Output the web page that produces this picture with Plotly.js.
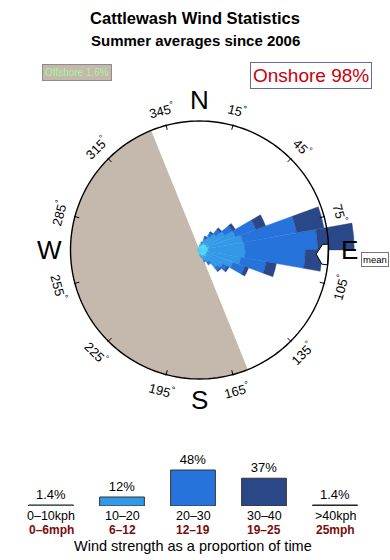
<!DOCTYPE html>
<html>
<head>
<meta charset="utf-8">
<script src="https://cdn.plot.ly/plotly-3.0.1.min.js"></script>
<style>html,body{margin:0;padding:0;background:#fff;}#chart{width:390px;height:560px;}</style>
</head>
<body>
<div id="chart"></div>
<script>
// ---------- data ----------
const speedKph = ['0–10kph', '10–20', '20–30', '30–40', '>40kph'];
const speedMph = ['0–6mph', '6–12', '12–19', '19–25', '25mph'];
const speedShare = [1.4, 12, 48, 37, 1.4];
const speedShareText = ['1.4%', '12%', '48%', '37%', '1.4%'];

const onshorePct = 98;
const offshorePct = 1.6;
const offshoreCentre = 248;   // direction at the middle of the offshore half
const meanDir = 92;

const directions = [5, 15, 25, 35, 45, 55, 65, 75, 85, 95, 105, 115, 125, 135, 145, 155, 165, 175,
  185, 195, 205, 215, 225, 235, 245, 255, 265, 275, 285, 295, 305, 315, 325, 335, 345, 355];
const rose0to10 = [0.6, 0.8, 1.0, 1.3, 1.1, 1.4, 1.2, 1.5, 1.3, 1.4, 1.2, 1.3, 1.1, 1.4, 1.0, 1.2, 0.9, 0.7,
  0.5, 0.4, 0.3, 0.3, 0.3, 0.3, 0.3, 0.3, 0.3, 0.3, 0.3, 0.3, 0.3, 0.3, 0.4, 0.4, 0.5, 0.5];
const rose10to20 = [0.2, 0.4, 0.8, 1.2, 2.2, 3.1, 4.7, 5.3, 5.7, 5.7, 5.3, 4.2, 3.1, 2.2, 1.2, 0.6, 0.3, 0.1,
  0, 0, 0, 0, 0, 0, 0, 0, 0, 0, 0, 0, 0, 0, 0, 0, 0, 0];
const rose20to30 = [0, 0.1, 0.3, 0.6, 0.9, 1.4, 3.4, 8.5, 11.3, 9.3, 4.0, 2.0, 0.8, 0.6, 0.5, 0.2, 0, 0,
  0, 0, 0, 0, 0, 0, 0, 0, 0, 0, 0, 0, 0, 0, 0, 0, 0, 0];
const rose30to40 = [0, 0, 0.2, 0.2, 0.3, 0.5, 1.6, 4.3, 5.7, 2.6, 1.6, 0.6, 0.3, 0.2, 0, 0, 0, 0,
  0, 0, 0, 0, 0, 0, 0, 0, 0, 0, 0, 0, 0, 0, 0, 0, 0, 0];

const tickAngles = [15, 45, 75, 105, 135, 165, 195, 225, 255, 285, 315, 345];
const compass = ['N', 'E', 'S', 'W'];
const compassAngles = [0, 90, 180, 270];

// ---------- styling / geometry ----------
const W = 390, H = 560;
const cx = 199.5, cy = 250;          // rose centre (px)
const ringPx = 129;                   // outer ring radius (px)
const ring = 20;                      // ring value in radial units
const pxPerUnit = ringPx / ring;
const domR = 165;                     // polar domain radius (px)
const speedColors = ['#4dd5f2', '#3399e6', '#2673dc', '#2a4888', '#111111'];
const tan = '#c4b9ac';
const FONT = 'Liberation Sans, Arial, Helvetica, sans-serif';

const px = x => x / W;
const py = y => 1 - y / H;

// ---------- rose traces ----------
const traces = [];
traces.push({
  type: 'barpolar', r: [ring], theta: [offshoreCentre], width: [180],
  marker: {color: tan, line: {width: 0}}, hoverinfo: 'skip'
});
const layers = [rose0to10, rose10to20, rose20to30, rose30to40];
const base = directions.map(() => 0);
layers.forEach((vals, i) => {
  traces.push({
    type: 'barpolar', r: vals.slice(), base: base.slice(), theta: directions, width: directions.map(() => 10),
    marker: {color: speedColors[i], line: {width: 0.4, color: speedColors[i]}}, hoverinfo: 'skip'
  });
  vals.forEach((v, k) => base[k] += v);
});
// mean arrow
const half = 4.6;
traces.push({
  type: 'scatterpolar', mode: 'lines', fill: 'toself', fillcolor: '#ffffff',
  r: [18.1, 19.1, ring, ring, 19.1, 18.1],
  theta: [meanDir, meanDir - half, meanDir - half, meanDir + half, meanDir + half, meanDir],
  line: {color: '#000', width: 1}, hoverinfo: 'skip'
});
// ring
const circT = [], circR = [];
for (let a = 0; a <= 360; a += 2) { circT.push(a); circR.push(ring); }
traces.push({type: 'scatterpolar', mode: 'lines', r: circR, theta: circT,
  line: {color: '#000', width: 1.4}, hoverinfo: 'skip'});
// ticks
const tkR = [], tkT = [];
tickAngles.forEach(t => { tkR.push(ring - 0.7, ring + 0.15, null); tkT.push(t, t, null); });
traces.push({type: 'scatterpolar', mode: 'lines', r: tkR, theta: tkT,
  line: {color: '#000', width: 1}, hoverinfo: 'skip'});

// ---------- bar chart ----------
traces.push({
  type: 'bar', x: speedKph, y: speedShare, xaxis: 'x', yaxis: 'y',
  text: speedShareText, textposition: 'outside', cliponaxis: false,
  textfont: {family: FONT, size: 13, color: '#000'},
  width: 0.63,
  marker: {color: speedColors, line: {color: '#333', width: 1}}, hoverinfo: 'skip'
});

// ---------- annotations ----------
const ann = [];
ann.push({xref: 'paper', yref: 'paper', x: px(195), y: py(41), xanchor: 'center', yanchor: 'middle',
  text: '<b>Summer averages since 2006</b>', showarrow: false, font: {family: FONT, size: 15, color: '#000'}});
ann.push({xref: 'paper', yref: 'paper', x: px(77), y: py(73), xanchor: 'center', yanchor: 'middle',
  text: 'Offshore ' + offshorePct + '%', showarrow: false, bgcolor: tan, bordercolor: '#8c8c8c', borderwidth: 1, borderpad: 2,
  font: {family: FONT, size: 10, color: '#a4f59c'}});
ann.push({xref: 'paper', yref: 'paper', x: px(311), y: py(75.5), xanchor: 'center', yanchor: 'middle',
  text: 'Onshore ' + onshorePct + '%', showarrow: false, bgcolor: '#fff', bordercolor: '#5b6f9a', borderwidth: 1, borderpad: 2,
  font: {family: FONT, size: 19, color: '#c8000a'}});
ann.push({xref: 'paper', yref: 'paper', x: px(375), y: py(259.5), xanchor: 'center', yanchor: 'middle',
  text: 'mean', showarrow: false, bgcolor: '#fff', bordercolor: '#777', borderwidth: 1, borderpad: 1,
  font: {family: FONT, size: 9.5, color: '#000'}});
compass.forEach((c, i) => {
  const a = compassAngles[i] * Math.PI / 180, R = 150;
  ann.push({xref: 'paper', yref: 'paper', x: px(cx + R * Math.sin(a)), y: py(cy - R * Math.cos(a)),
    xanchor: 'center', yanchor: 'middle', text: c, showarrow: false,
    font: {family: FONT, size: 26, color: '#000'}});
});
tickAngles.forEach(t => {
  const a = t * Math.PI / 180, R = 145;
  const ta = t <= 90 ? t : (t < 270 ? t - 180 : t - 360);
  ann.push({xref: 'paper', yref: 'paper', x: px(cx + R * Math.sin(a)), y: py(cy - R * Math.cos(a)),
    xanchor: 'center', yanchor: 'middle', text: t + '<sup>°</sup>', textangle: ta, showarrow: false,
    font: {family: FONT, size: 13, color: '#000'}});
});
speedKph.forEach((k, i) => {
  ann.push({xref: 'x', yref: 'paper', x: k, y: py(516), xanchor: 'center', yanchor: 'middle',
    text: k, showarrow: false, borderpad: 0, font: {family: FONT, size: 12.5, color: '#000'}});
  ann.push({xref: 'x', yref: 'paper', x: k, y: py(530), xanchor: 'center', yanchor: 'middle',
    text: '<b>' + speedMph[i] + '</b>', showarrow: false, borderpad: 0, font: {family: FONT, size: 12, color: '#7a0c0c'}});
});
ann.push({xref: 'paper', yref: 'paper', x: px(193), y: py(546), xanchor: 'center', yanchor: 'middle',
  text: 'Wind strength as a proportion of time', showarrow: false, font: {family: FONT, size: 14.5, color: '#000'}});

const layout = {
  width: W, height: H, margin: {l: 0, r: 0, t: 0, b: 0},
  paper_bgcolor: '#fff', plot_bgcolor: 'rgba(0,0,0,0)', showlegend: false,
  title: {text: '<b>Cattlewash Wind Statistics</b>', x: px(195), y: py(18), xanchor: 'center', yanchor: 'middle',
    font: {family: FONT, size: 16.5, color: '#000'}},
  polar: {
    domain: {x: [px(cx - domR), px(cx + domR)], y: [py(cy + domR), py(cy - domR)]},
    bgcolor: 'rgba(0,0,0,0)', barmode: 'overlay',
    radialaxis: {visible: false, range: [0, domR / pxPerUnit]},
    angularaxis: {rotation: 90, direction: 'clockwise', showline: false, showgrid: false,
      showticklabels: false, ticks: ''}
  },
  xaxis: {domain: [px(15.5), px(370.5)], range: [-0.5, 4.5], type: 'category', visible: false, fixedrange: true},
  yaxis: {domain: [py(506), py(461)], range: [0, 60], visible: false, fixedrange: true},
  annotations: ann
};

Plotly.newPlot('chart', traces, layout, {staticPlot: true, displayModeBar: false});
</script>
</body>
</html>
